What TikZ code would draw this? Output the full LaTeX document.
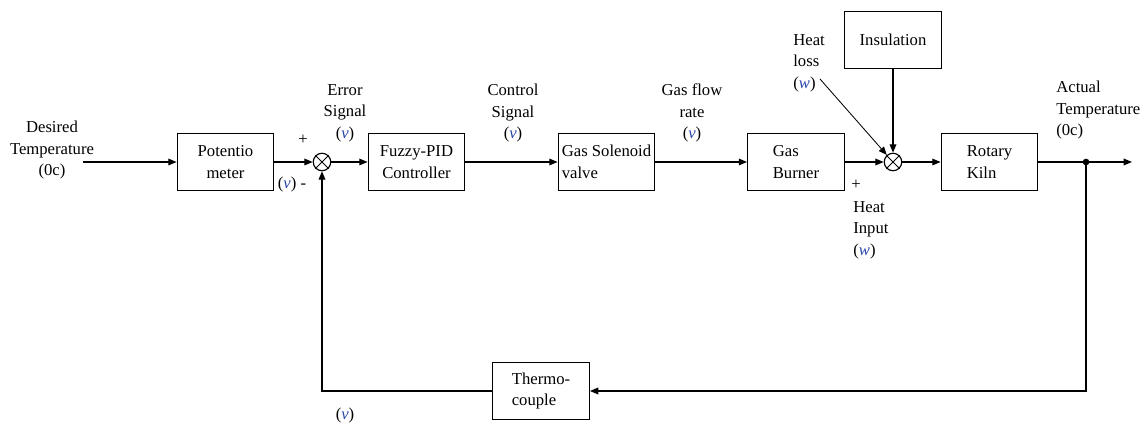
\documentclass[tikz,border=0pt]{standalone}
\usepackage{fontspec}
\setmainfont{Liberation Serif}
\usetikzlibrary{arrows.meta}
\definecolor{sigblue}{RGB}{40,70,170}
\newcommand{\sigv}{(\textcolor{sigblue}{\textit{v}})}
\newcommand{\sigw}{(\textcolor{sigblue}{\textit{w}})}

\begin{document}
\begin{tikzpicture}[x=0.6pt,y=-0.6pt,
    every node/.style={font=\fontsize{10}{13}\selectfont},
    blk/.style={draw, line width=0.7pt, minimum width=58pt, minimum height=34pt, align=center, inner sep=1pt},
    sumpt/.style={draw, circle, line width=0.7pt, minimum size=10.5pt, inner sep=0pt},
    arr/.style={line width=0.7pt, -{Triangle[length=5pt,width=4pt]}},
    lbl/.style={align=center, inner sep=0pt}]
    \useasboundingbox (0,0) rectangle (1147,424);

    % Blocks
    \node[blk] (pot) at (225.5,162) {Potentio\\meter};
    \node[sumpt] (s1) at (322,162) {};
    \node[blk] (pid) at (416.5,162) {Fuzzy-PID\\Controller};
    \node[blk, align=left] (valve) at (606.5,162) {Gas Solenoid\\valve};
    \node[blk, align=left] (burner) at (796,162) {Gas\\Burner};
    \node[sumpt] (s2) at (893,162) {};
    \node[blk] (ins) at (893,40) {Insulation};
    \node[blk, align=left] (kiln) at (989.5,162) {Rotary\\Kiln};
    \node[blk, align=left] (tc) at (541,391) {Thermo-\\couple};

    % Crosses in the summing points
    \foreach \s in {s1,s2}
        \draw[line width=0.5pt] (\s.45) -- (\s.225) (\s.135) -- (\s.315);

    % Free ends
    \coordinate (in) at (83,162);
    \coordinate (tap) at (1086,162);
    \coordinate (out) at (1132,162);
    \coordinate (lossend) at (820,79);

    % Forward path
    \draw[arr] (in) -- (pot);
    \draw[arr] (pot) -- (s1);
    \draw[arr] (s1) -- (pid);
    \draw[arr] (pid) -- (valve);
    \draw[arr] (valve) -- (burner);
    \draw[arr] (burner) -- (s2);
    \draw[arr] (ins) -- (s2);
    \draw[arr, line width=0.5pt] (lossend) -- (s2);
    \draw[arr] (s2) -- (kiln);
    \draw[arr] (kiln) -- (out);
    \fill (tap) circle (2pt);

    % Feedback path
    \draw[arr] (tap) |- (tc);
    \draw[arr] (tc) -| (s1);

    % Labels
    \node[lbl] (dtemp) at (52,150) {Desired\\Temperature\\(0c)};
    \node (plus1) at (303,140) {+};
    \node (minus1) at (292,184) {\sigv\ -};
    \node[lbl] (err) at (345,113) {Error\\Signal\\\sigv};
    \node[lbl] (ctl) at (513,113) {Control\\Signal\\\sigv};
    \node[lbl] (flow) at (692,113) {Gas flow\\rate\\\sigv};
    \node[lbl, align=left, anchor=west] (loss) at (793,63) {Heat\\loss\\\sigw};
    \node (plus2) at (856,185) {+};
    \node[lbl, align=left, anchor=west] (hin) at (853,230) {Heat\\Input\\\sigw};
    \node[lbl, align=left, anchor=west] (act) at (1056,110) {Actual\\Temperature\\(0c)};
    \node (fbv) at (345,415) {\sigv};
\end{tikzpicture}
\end{document}
